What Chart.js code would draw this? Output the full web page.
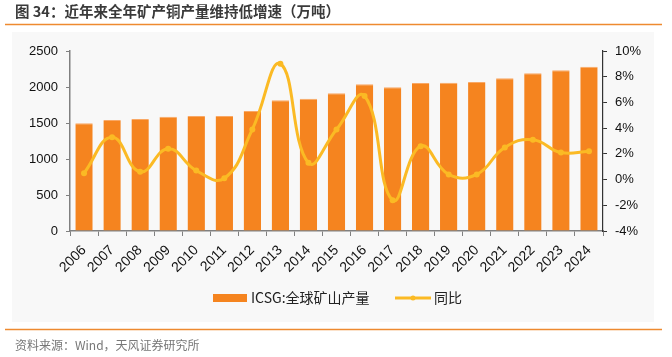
<!DOCTYPE html>
<html>
<head>
<meta charset="utf-8">
<script src="https://cdn.jsdelivr.net/npm/chart.js@4/dist/chart.umd.min.js"></script>
<style>
html,body{margin:0;padding:0;background:#fff;}
#wrap{position:relative;width:672px;height:357px;}
</style>
</head>
<body>
<div id="wrap"><canvas id="c" width="672" height="357"></canvas></div>
<script>
const titleText = '图 34：近年来全年矿产铜产量维持低增速（万吨）';
const sourceText = '资料来源：Wind，天风证券研究所';
const years = ['2006','2007','2008','2009','2010','2011','2012','2013','2014','2015','2016','2017','2018','2019','2020','2021','2022','2023','2024'];
const production = [1496,1542,1555,1588,1597,1597,1667,1815,1838,1912,2037,1996,2055,2060,2069,2120,2190,2231,2282];
const yoy = [0.5,3.3,0.6,2.4,0.7,0.1,3.9,9.0,1.3,3.9,6.5,-1.6,2.6,0.4,0.4,2.5,3.1,2.1,2.2];
const seriesNames = ['ICSG:全球矿山产量','同比'];
const leftTicks = {min:0, max:2500, step:500};
const rightTicks = {min:-4, max:10, step:2};

const ORANGE = '#F5841F';
const GOLD = '#FBBA24';
const AXIS = '#808080';
const CJK = '"Noto Sans CJK SC","Liberation Sans",sans-serif';
const LAT = '"Liberation Sans",Arial,sans-serif';

const decor = {
  id:'decor',
  beforeDraw(chart){
    const ctx = chart.ctx;
    ctx.save();
    ctx.fillStyle = '#fff';
    ctx.fillRect(0,0,672,357);
    ctx.fillStyle = '#f8f8f8';
    ctx.fillRect(12,32,642,290);
    ctx.fillStyle = '#3a3a3a';
    ctx.font = 'bold 14.5px ' + CJK;
    ctx.textBaseline = 'middle';
    ctx.textAlign = 'left';
    ctx.fillText(titleText, 15, 11);
    ctx.strokeStyle = '#EE8A30';
    ctx.lineWidth = 1.5;
    ctx.beginPath(); ctx.moveTo(5,24.5); ctx.lineTo(662,24.5); ctx.stroke();
    ctx.beginPath(); ctx.moveTo(5,329.5); ctx.lineTo(662,329.5); ctx.stroke();
    ctx.fillStyle = '#777';
    ctx.font = '12px ' + CJK;
    ctx.fillText(sourceText, 15, 345);
    ctx.restore();
  },
  afterDraw(chart){
    const ctx = chart.ctx;
    ctx.save();
    ctx.textBaseline = 'middle';
    ctx.textAlign = 'left';
    ctx.font = '14px ' + CJK;
    ctx.fillStyle = ORANGE;
    ctx.fillRect(213,294,34,8);
    ctx.fillStyle = '#222';
    ctx.fillText(seriesNames[0], 251, 298);
    ctx.strokeStyle = GOLD;
    ctx.lineWidth = 3;
    ctx.beginPath(); ctx.moveTo(395,298); ctx.lineTo(431,298); ctx.stroke();
    ctx.fillStyle = GOLD;
    ctx.beginPath(); ctx.arc(413,298,2.5,0,Math.PI*2); ctx.fill();
    ctx.fillStyle = '#222';
    ctx.fillText(seriesNames[1], 434, 298);
    ctx.restore();
  }
};

new Chart(document.getElementById('c'), {
  data:{
    labels: years,
    datasets:[
      {type:'line', label:seriesNames[1], data:yoy, yAxisID:'y1', borderColor:GOLD, backgroundColor:GOLD,
       borderWidth:3, pointRadius:3, pointBorderWidth:0, tension:0.45, order:0},
      {type:'bar', label:seriesNames[0], data:production, yAxisID:'y', backgroundColor:ORANGE,
       borderColor:'#F9A865', borderWidth:{top:1,left:0,right:0,bottom:0}, borderSkipped:'bottom',
       categoryPercentage:1, barPercentage:0.62, order:1}
    ]
  },
  options:{
    responsive:false, animation:false, devicePixelRatio:1,
    layout:{padding:{top:51,left:0,right:0,bottom:0}},
    plugins:{legend:{display:false}, tooltip:{enabled:false}},
    scales:{
      x:{
        offset:true,
        grid:{display:true, drawOnChartArea:false, drawTicks:true, tickLength:5, color:AXIS, offset:true},
        border:{display:true, color:AXIS, width:1.5},
        ticks:{color:'#111', font:{family:LAT, size:14}, maxRotation:45, minRotation:45, padding:6, autoSkip:false},
        afterFit(s){ s.height = 126; }
      },
      y:{
        position:'left', min:leftTicks.min, max:leftTicks.max,
        grid:{display:true, drawOnChartArea:false, drawTicks:true, tickLength:4, color:AXIS},
        border:{display:true, color:AXIS, width:1.5},
        ticks:{stepSize:leftTicks.step, color:'#111', font:{family:LAT, size:13}, padding:8,
               callback:v=>String(v)},
        afterFit(s){ s.width = 70; }
      },
      y1:{
        position:'right', min:rightTicks.min, max:rightTicks.max,
        grid:{display:true, drawOnChartArea:false, drawTicks:true, tickLength:4, color:'#333'},
        border:{display:true, color:'#333', width:1.2},
        ticks:{stepSize:rightTicks.step, color:'#111', font:{family:LAT, size:13}, padding:8,
               callback:v=>v+'%'},
        afterFit(s){ s.width = 69; }
      }
    }
  },
  plugins:[decor]
});
</script>
</body>
</html>
